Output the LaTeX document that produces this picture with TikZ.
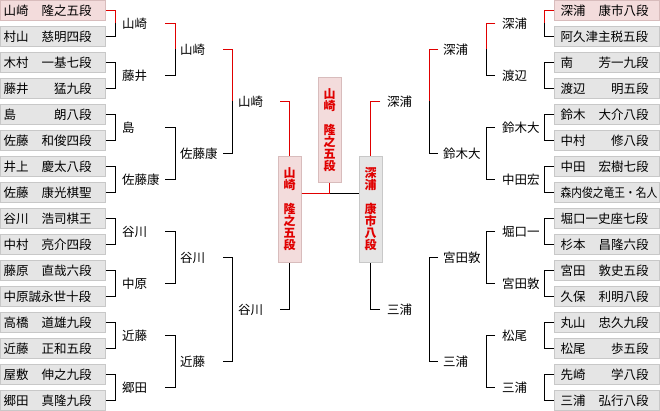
\documentclass[tikz,border=0pt]{standalone}
\usepackage{fontspec}
\usepackage{graphicx}
\setmainfont{Noto Sans CJK JP}
\usetikzlibrary{calc}
\definecolor{winred}{HTML}{E00000}
\definecolor{pinkfill}{HTML}{F3DCDC}
\definecolor{pinkline}{HTML}{D8BCBC}
\definecolor{grayfill}{HTML}{E5E5E5}
\definecolor{grayline}{HTML}{C8C8C8}
\newcommand\pname[2]{\makebox[88pt]{#1\hfill #2}}
\tikzset{
  plboxL/.style={draw=grayline, fill=grayfill, line width=1pt, minimum height=20pt,
    text width=99pt, inner xsep=3pt, inner ysep=0pt, align=left,
    font=\fontsize{12.5}{13}\selectfont},
  plboxR/.style={plboxL, text width=93pt, inner xsep=6pt},
  winboxL/.style={plboxL, draw=pinkline, fill=pinkfill},
  winboxR/.style={plboxR, draw=pinkline, fill=pinkfill},
  lab/.style={anchor=west, inner sep=0pt, font=\fontsize{12.5}{13}\selectfont},
  ln/.style={line width=1pt, black},
  win/.style={line width=1pt, winred},
  vbox/.style={draw=pinkline, fill=pinkfill, line width=1pt, minimum width=23pt,
    minimum height=105pt, inner sep=0pt, align=center, text=winred,
    font=\bfseries\fontsize{12}{12}\selectfont},
  vboxgray/.style={vbox, draw=grayline, fill=grayfill},
}
\begin{document}
\begin{tikzpicture}[x=1pt,y=-1pt]
\useasboundingbox (0,0) rectangle (660,411);
% ---------- left player boxes
\node[winboxL] (bL0) at (53,10.5) {\pname{山崎}{隆之五段}};
\foreach \i/\a/\b in {1/村山/慈明四段,2/木村/一基七段,3/藤井/猛九段,4/島/朗八段,
  5/佐藤/和俊四段,6/井上/慶太八段,7/佐藤/康光棋聖,8/谷川/浩司棋王,9/中村/亮介四段,
  10/藤原/直哉六段,11/中原誠永世十段/,12/高橋/道雄九段,13/近藤/正和五段,
  14/屋敷/伸之九段,15/郷田/真隆九段}
  \node[plboxL] (bL\i) at (53,{26*\i+10.5}) {\pname{\a}{\b}};
% ---------- right player boxes
\node[winboxR] (bR0) at (607,10.5) {\pname{深浦}{康市八段}};
\foreach \i/\a/\b in {1/阿久津主税五段/,2/南/芳一九段,3/渡辺/明五段,4/鈴木/大介八段,
  5/中村/修八段,6/中田/宏樹七段,8/堀口一史座七段/,9/杉本/昌隆六段,
  10/宮田/敦史五段,11/久保/利明八段,12/丸山/忠久九段,13/松尾/歩五段,
  14/先崎/学八段,15/三浦/弘行八段}
  \node[plboxR] (bR\i) at (607,{26*\i+10.5}) {\pname{\a}{\b}};
\node[plboxR] (bR7) at (607,{26*7+10.5}) {\scalebox{0.86}[1]{森内俊之竜王・名人}};
% ---------- left round labels
\foreach \k/\t in {0/山崎,1/藤井,2/島,3/佐藤康,4/谷川,5/中原,6/近藤,7/郷田}
  \node[lab] (l1L\k) at (122,{52*\k+23.5}) {\t};
\foreach \k/\t in {0/山崎,1/佐藤康,2/谷川,3/近藤}
  \node[lab] (l2L\k) at (180,{104*\k+49.5}) {\t};
\foreach \k/\t in {0/山崎,1/谷川}
  \node[lab] (l3L\k) at (238,{208*\k+101.5}) {\t};
% ---------- right round labels
\foreach \k/\t in {0/深浦,1/渡辺,2/鈴木大,3/中田宏,4/堀口一,5/宮田敦,6/松尾,7/三浦}
  \node[lab] (l1R\k) at (502,{52*\k+23.5}) {\t};
\foreach \k/\t in {0/深浦,1/鈴木大,2/宮田敦,3/三浦}
  \node[lab] (l2R\k) at (443,{104*\k+49.5}) {\t};
\foreach \k/\t in {0/深浦,1/三浦}
  \node[lab] (l3R\k) at (387,{208*\k+101.5}) {\t};
% ---------- semifinal / final boxes
\node[vbox] (sL) at (289.5,209.5) {山\\崎\\[12pt]隆\\之\\五\\段};
\node[vboxgray] (sR) at (370.5,209.5) {深\\浦\\[12pt]康\\市\\八\\段};
\node[vbox] (cF) at (329.5,130.5) {山\\崎\\[12pt]隆\\之\\五\\段};
% ---------- brackets
\foreach \k in {0,...,7}{
  \pgfmathtruncatemacro\ia{2*\k}\pgfmathtruncatemacro\ib{2*\k+1}
  \draw[ln] (bL\ia.east) -- ++(9.5,0) |- (bL\ib.east);
  \draw[ln] (bR\ia.west) -- ++(-9.5,0) |- (bR\ib.west);
}
\foreach \k in {0,...,3}{
  \pgfmathtruncatemacro\ia{2*\k}\pgfmathtruncatemacro\ib{2*\k+1}
  \draw[ln] ($(l1L\ia.west)+(43,0)$) -- ++(10,0) |- ($(l1L\ib.west)+(43,0)$);
  \draw[ln] ($(l1R\ia.west)+(-7,0)$) -- ++(-9,0) |- ($(l1R\ib.west)+(-7,0)$);
}
\foreach \k in {0,1}{
  \pgfmathtruncatemacro\ia{2*\k}\pgfmathtruncatemacro\ib{2*\k+1}
  \draw[ln] ($(l2L\ia.west)+(43,0)$) -- ++(9,0) |- ($(l2L\ib.west)+(43,0)$);
  \draw[ln] ($(l2R\ia.west)+(-5,0)$) -- ++(-9,0) |- ($(l2R\ib.west)+(-5,0)$);
}
\draw[ln] ($(l3L1.west)+(42,0)$) -| (sL.south);
\draw[ln] ($(l3R1.west)+(-7,0)$) -| (sR.south);
\draw[ln] ($(l3R0.west)+(-7,0)$) -| (sR.north);
\draw[ln] ([yshift=15.5pt]sL.east) -- ([yshift=15.5pt]sR.west);
% ---------- winner paths (red)
\draw[win] (bL0.east) -- ++(9.5,0) -- ++(0,13);
\draw[win] ($(l1L0.west)+(43,0)$) -- ++(10,0) -- ++(0,26);
\draw[win] ($(l2L0.west)+(43,0)$) -- ++(9,0) -- ++(0,52);
\draw[win] ($(l3L0.west)+(42,0)$) -| (sL.north);
\draw[win] (bR0.west) -- ++(-9.5,0) -- ++(0,13);
\draw[win] ($(l1R0.west)+(-7,0)$) -- ++(-9,0) -- ++(0,26);
\draw[win] ($(l2R0.west)+(-5,0)$) -- ++(-9,0) -- ++(0,52);
\draw[win] ($(l3R0.west)+(-7,0)$) -| (sR.north);
\draw[win] ([yshift=15.5pt]sL.east) -| (cF.south);
\end{tikzpicture}
\end{document}
